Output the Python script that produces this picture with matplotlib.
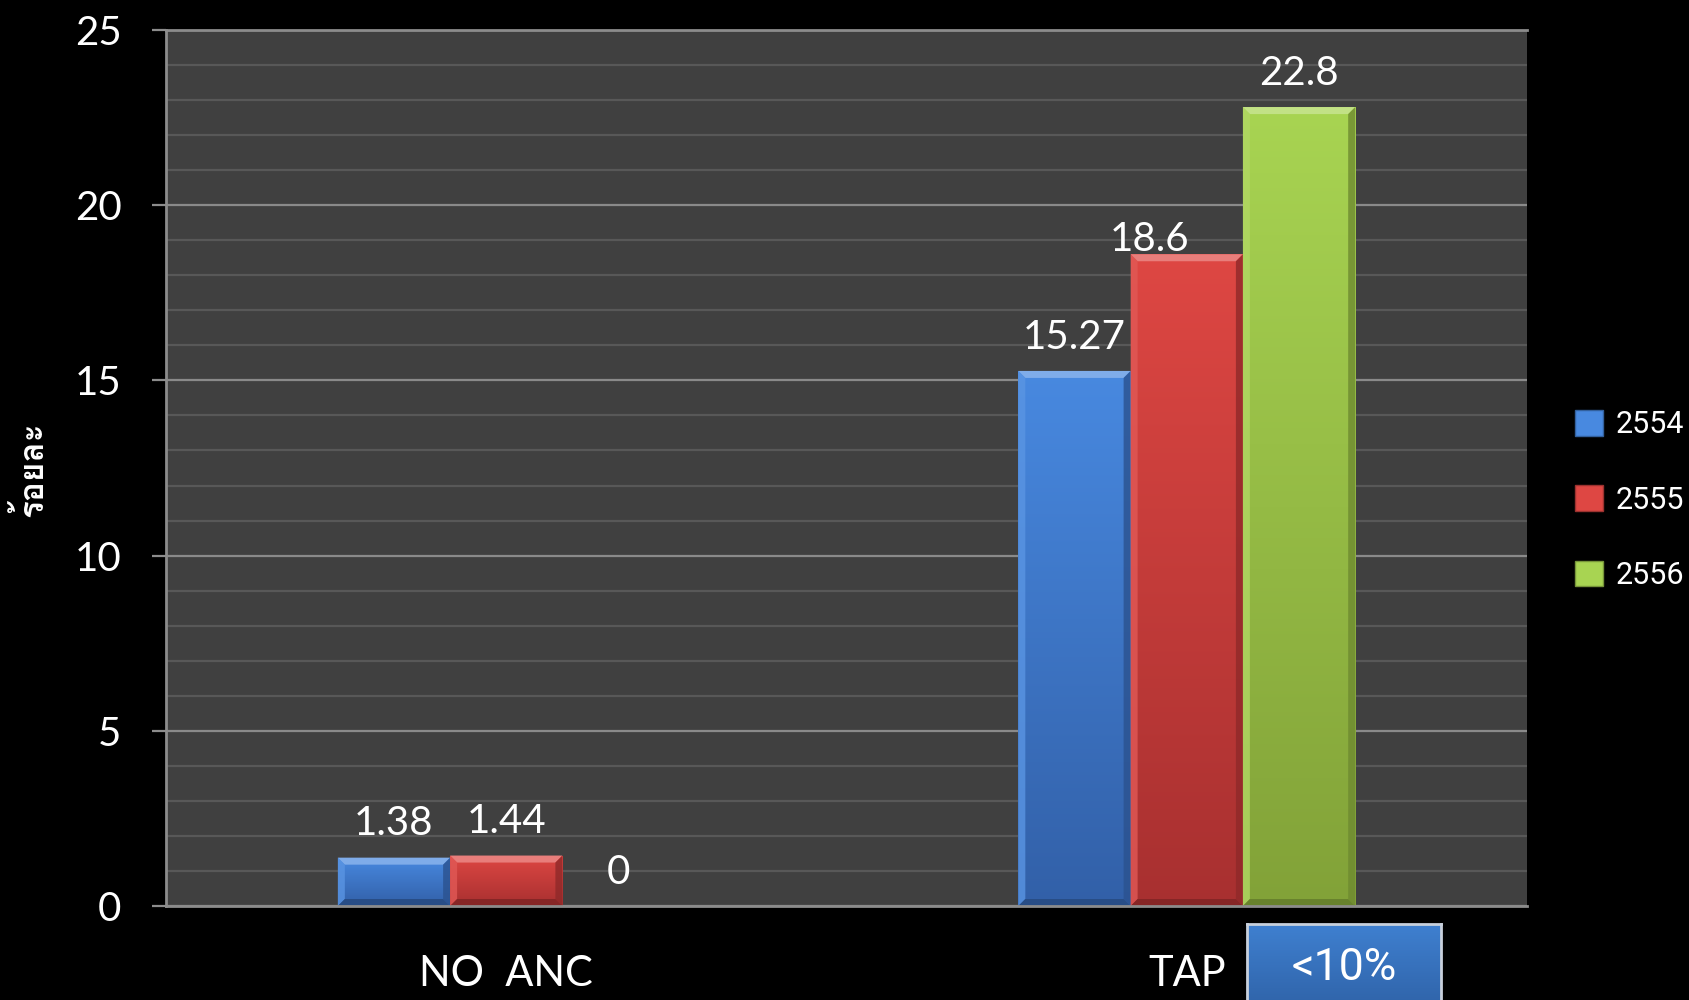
import numpy as np
import matplotlib
matplotlib.use('Agg')
import matplotlib.pyplot as plt
from matplotlib import font_manager
from matplotlib.ft2font import FT2Font
from matplotlib.patches import Polygon, Patch
from matplotlib.ticker import MultipleLocator

# data
categories = ['NO  ANC', 'TAP']
years = ['2554', '2555', '2556']
vals_2554 = [1.38, 15.27]
vals_2555 = [1.44, 18.6]
vals_2556 = [0, 22.8]
y_label = 'ร้อยละ'
note = '<10%'

series = [vals_2554, vals_2555, vals_2556]
tops = ['#4889e0', '#de4743', '#a8d452']
bottoms = ['#3260a8', '#a83030', '#82a238']


def thai_font():
    for f in font_manager.fontManager.ttflist:
        try:
            if 0x0E23 in FT2Font(f.fname).get_charmap():
                return f.name
        except Exception:
            pass
    return 'DejaVu Sans'


def mix(c, t, a):
    c = np.array(matplotlib.colors.to_rgb(c))
    t = np.array(matplotlib.colors.to_rgb(t))
    return tuple(c * (1 - a) + t * a)


fig = plt.figure(figsize=(16.9, 10), dpi=100, facecolor='black')
ax = fig.add_axes([166 / 1690, 0.094, (1527 - 166) / 1690, 0.876])
ax.set_facecolor('#404040')

x = np.arange(len(categories))
w = 0.165
ax.set_xlim(-0.5, 1.5)
ax.set_ylim(0, 25)

ax.yaxis.set_major_locator(MultipleLocator(5))
ax.yaxis.set_minor_locator(MultipleLocator(1))
ax.grid(which='major', axis='y', color='#8a8a8a', lw=1.6)
ax.grid(which='minor', axis='y', color='#585858', lw=1.6)
ax.set_axisbelow(True)

ax.spines['right'].set_visible(False)
for s in ['left', 'bottom', 'top']:
    ax.spines[s].set_color('#8c8c8c')
    ax.spines[s].set_linewidth(2)

ax.tick_params(axis='y', which='major', length=10, width=1.6, color='#8c8c8c',
               pad=22, labelsize=29, labelcolor='white')
ax.tick_params(axis='y', which='minor', length=0)
ax.tick_params(axis='x', length=0, pad=35, labelsize=30, labelcolor='white')
ax.set_xticks(x)
ax.set_xticklabels(categories)
for lab in ax.get_xticklabels() + ax.get_yticklabels():
    lab.set_fontfamily('Lato')

# pixel -> data scale for bevels
fig.canvas.draw()
px_x = (ax.transData.transform((1, 0))[0] - ax.transData.transform((0, 0))[0])
px_y = (ax.transData.transform((0, 1))[1] - ax.transData.transform((0, 0))[1])
bev_x = 7 / px_x
bev_y = 7 / px_y

label_shift = {(1, 1): (-27, -14)}

for i, vals in enumerate(series):
    bars = ax.bar(x + (i - 1) * w, vals, w, color=tops[i], zorder=2, lw=0)
    grad = np.linspace(0, 1, 256).reshape(-1, 1)
    cmap = matplotlib.colors.LinearSegmentedColormap.from_list('g', [bottoms[i], tops[i]])
    for j, b in enumerate(bars):
        bx, bw, bh = b.get_x(), b.get_width(), b.get_height()
        if bh > 0:
            im = ax.imshow(grad, extent=[bx, bx + bw, 0, bh], origin='lower',
                           cmap=cmap, aspect='auto', zorder=2.1)
            im.set_clip_path(b)
            # bevel edges
            dx = bev_x
            dy = min(bev_y, bh / 4)
            ax.add_patch(Polygon([(bx, bh), (bx + bw, bh), (bx + bw - dx, bh - dy), (bx + dx, bh - dy)],
                                 color=mix(tops[i], 'white', 0.3), lw=0, zorder=2.2))
            ax.add_patch(Polygon([(bx, 0), (bx, bh), (bx + dx, bh - dy), (bx + dx, dy)],
                                 color=mix(tops[i], 'white', 0.1), lw=0, zorder=2.2, alpha=0.8))
            ax.add_patch(Polygon([(bx + bw, 0), (bx + bw, bh), (bx + bw - dx, bh - dy), (bx + bw - dx, dy)],
                                 color=mix(bottoms[i], 'black', 0.15), lw=0, zorder=2.2, alpha=0.8))
            ax.add_patch(Polygon([(bx, 0), (bx + bw, 0), (bx + bw - dx, dy), (bx + dx, dy)],
                                 color=mix(bottoms[i], 'black', 0.2), lw=0, zorder=2.2))
        off = label_shift.get((j, i), (0, 0))
        ax.annotate(f'{vals[j]:g}', (bx + bw / 2, bh), xytext=(off[0], 16 + off[1]),
                    textcoords='offset points', ha='center', va='baseline',
                    fontsize=29, color='white', family='Lato', zorder=3)

ax.set_xlim(-0.5, 1.5)
ax.set_ylim(0, 25)

# legend
handles = [Patch(facecolor=c, edgecolor=mix(c, 'black', 0.3), lw=1) for c in tops]
fig.legend(handles, years, loc='center left', bbox_to_anchor=(1575 / 1690, 0.5),
           frameon=False, borderpad=0, borderaxespad=0, handlelength=0.92, handleheight=0.92,
           handletextpad=0.42, labelspacing=1.5, labelcolor='white',
           prop={'family': 'Roboto', 'size': 22})

# y label
fig.text(30 / 1690, 0.531, y_label, rotation=90, ha='center', va='center', color='white',
         fontsize=24, fontweight='bold', family=[thai_font(), 'DejaVu Sans'])

# "<10%" box below the TAP group
bax = fig.add_axes([1247 / 1690, -0.02, (1441 - 1247) / 1690, 0.096])
bcmap = matplotlib.colors.LinearSegmentedColormap.from_list('b', ['#2d5fa3', '#3f80d0'])
bax.imshow(np.linspace(0, 1, 256).reshape(-1, 1), cmap=bcmap, aspect='auto', origin='lower',
           extent=[0, 1, 0, 1])
bax.set_xticks([])
bax.set_yticks([])
for s in bax.spines.values():
    s.set_color('#c8d0dc')
    s.set_linewidth(2)
fig.text(1344 / 1690, 1 - 968 / 1000, note, ha='center', va='center', color='white',
         fontsize=32, family='Roboto')

fig.savefig('out.png', dpi=100, facecolor='black')
